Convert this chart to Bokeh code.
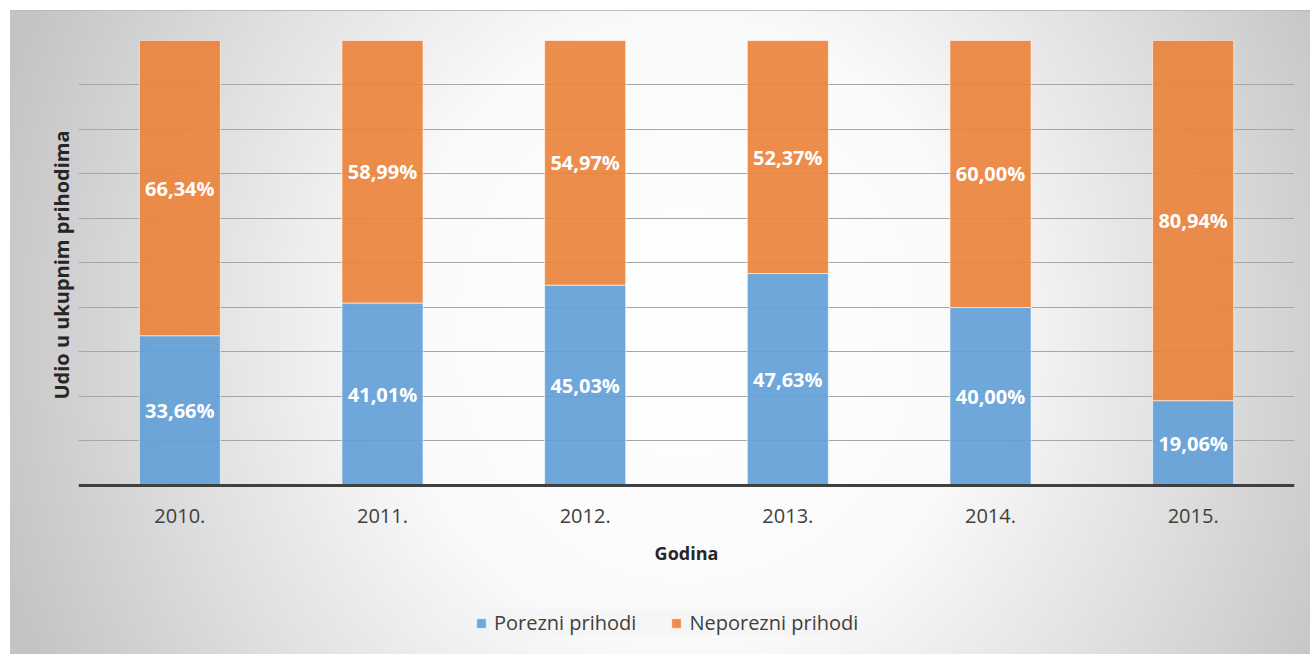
from bokeh.plotting import figure
from bokeh.models import ColumnDataSource, FixedTicker, Legend, LegendItem, LabelSet, Title
from bokeh.core.properties import value
from bokeh.embed import file_html
from bokeh.resources import INLINE

years = ["2010.", "2011.", "2012.", "2013.", "2014.", "2015."]
porezni = [33.66, 41.01, 45.03, 47.63, 40.00, 19.06]
neporezni = [66.34, 58.99, 54.97, 52.37, 60.00, 80.94]
series_names = ["Porezni prihodi", "Neporezni prihodi"]
colors = ["#639fd8", "#ec833c"]
y_ticks = [0, 10, 20, 30, 40, 50, 60, 70, 80, 90, 100]

def fmt(v):
    return ("%.2f" % v).replace(".", ",") + "%"

src = ColumnDataSource(dict(
    year=years, por=porezni, nep=neporezni,
    por_c=[p / 2 for p in porezni],
    nep_c=[p + n / 2 for p, n in zip(porezni, neporezni)],
    por_l=[fmt(v) for v in porezni],
    nep_l=[fmt(v) for v in neporezni],
))

# the frame reaches down to the legend; the value axis runs 0..100 in its upper part
p = figure(x_range=years, y_range=(-37.08, 100), width=1300, height=644,
           output_backend="svg", toolbar_location=None,
           min_border_left=68, min_border_right=16, min_border_top=30, min_border_bottom=4,
           background_fill_color=None, border_fill_color=None, outline_line_color=None,
           margin=(10, 0, 0, 10),
           styles={"background": "radial-gradient(ellipse 55% 120% at 52% 50%, #ffffff 0%, #fafafa 40%, #e0e0e0 70%, #c4c4c4 100%)",
                   "box-shadow": "inset 0 1px 0 #bcbcbc"})

rs = p.vbar_stack(["por", "nep"], x="year", width=0.4, source=src, color=colors,
                  fill_alpha=0.92, line_color="#ffffff", line_alpha=0.6, line_width=1)

font = value("Open Sans")
for ycol, lcol in (("por_c", "por_l"), ("nep_c", "nep_l")):
    p.add_layout(LabelSet(x="year", y=ycol, text=lcol, source=src,
                          text_color="white", text_font=font, text_font_style="bold",
                          text_font_size="20px", text_align="center", text_baseline="middle"))

p.yaxis.visible = False
p.ygrid.ticker = FixedTicker(ticks=y_ticks)
p.ygrid.grid_line_color = "#a6a6a6"
p.ygrid.grid_line_width = 1
p.xgrid.grid_line_color = None

ylab = Title(text="Udio u ukupnim prihodima", align="right", offset=90,
             text_font="Open Sans", text_font_style="bold", text_font_size="20px",
             text_color="#262626", standoff=8)
p.add_layout(ylab, "left")

p.xaxis.fixed_location = 0
p.xaxis.axis_line_color = "#404040"
p.xaxis.axis_line_width = 3
p.xaxis.major_tick_line_color = None
p.xaxis.minor_tick_line_color = None
p.xaxis.major_label_text_font = "Open Sans"
p.xaxis.major_label_text_font_size = "20px"
p.xaxis.major_label_text_color = "#404040"
p.xaxis.major_label_standoff = 18
p.xaxis.axis_label = "Godina"
p.xaxis.axis_label_text_font = "Open Sans"
p.xaxis.axis_label_text_font_style = "bold"
p.xaxis.axis_label_text_font_size = "18px"
p.xaxis.axis_label_text_color = "#262626"
p.xaxis.axis_label_standoff = 14

legend = Legend(items=[LegendItem(label=series_names[i], renderers=[rs[i]]) for i in range(2)],
                orientation="horizontal", location=(397, 14),
                glyph_width=12, glyph_height=12, label_standoff=7, spacing=34,
                padding=11, margin=0,
                label_text_font="Open Sans", label_text_font_size="20px",
                label_text_color="#404040",
                background_fill_color="#f4f4f4", background_fill_alpha=0.6,
                border_line_color=None)
p.add_layout(legend, "center")

open("out.html", "w").write(file_html(p, INLINE))
